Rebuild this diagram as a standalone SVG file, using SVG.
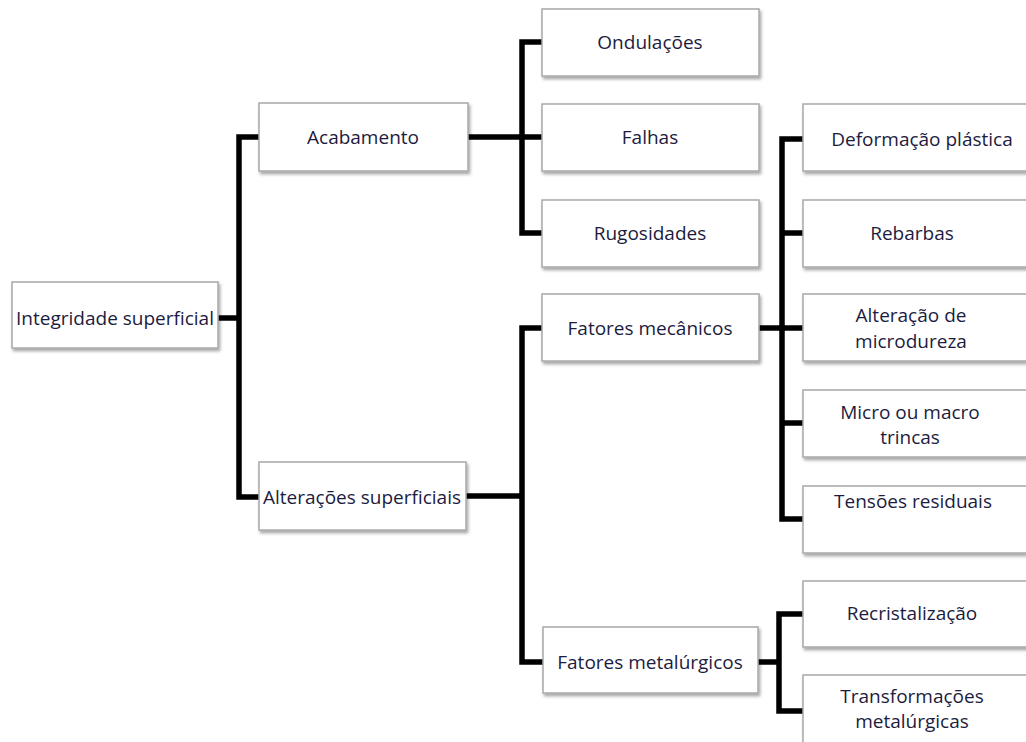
<svg xmlns="http://www.w3.org/2000/svg" width="1026" height="742" viewBox="0 0 1026 742">
<style>
.box{fill:#ffffff;stroke:#a8a8a8;stroke-width:1.5;filter:url(#sh)}
.t{font-family:"Open Sans","Noto Sans",sans-serif;font-size:19px;fill:#1c1c40;text-anchor:middle}
.c{fill:none;stroke:#000000;stroke-width:5.5;stroke-linecap:square;stroke-linejoin:miter}
</style>
<defs>
<filter id="sh" x="-10%" y="-10%" width="125%" height="140%">
<feDropShadow dx="1.5" dy="2.5" stdDeviation="1.5" flood-color="#000000" flood-opacity="0.35"/>
</filter>
</defs>
<rect width="1026" height="742" fill="#ffffff"/>
<g id="connectors">
<path class="c" d="M218 318 H239 M239 137 V497 M239 137 H259 M239 497 H259"/>
<path class="c" d="M468 137 H542 M522 42 V233 M522 42 H542 M522 233 H542"/>
<path class="c" d="M466 496 H522 M522 328 V662 M522 328 H542 M522 662 H543"/>
<path class="c" d="M759 328 H803 M782 139 V519 M782 139 H803 M782 233 H803 M782 423 H803 M782 519 H803"/>
<path class="c" d="M758 662 H779 M779 614 V711 M779 614 H803 M779 711 H803"/>
</g>
<g id="n-integridade"><rect class="box" x="12" y="282" width="206" height="66"/><text class="t" x="115" y="325">Integridade superficial</text></g>
<g id="n-acabamento"><rect class="box" x="259" y="103" width="209" height="68"/><text class="t" x="363" y="144">Acabamento</text></g>
<g id="n-alteracoes"><rect class="box" x="259" y="462" width="207" height="68"/><text class="t" x="362" y="504">Alterações superficiais</text></g>
<g id="n-ondulacoes"><rect class="box" x="542" y="9" width="217" height="67"/><text class="t" x="650" y="49">Ondulações</text></g>
<g id="n-falhas"><rect class="box" x="542" y="104" width="217" height="67"/><text class="t" x="650" y="144">Falhas</text></g>
<g id="n-rugosidades"><rect class="box" x="542" y="200" width="217" height="67"/><text class="t" x="650" y="240">Rugosidades</text></g>
<g id="n-mecanicos"><rect class="box" x="542" y="294" width="217" height="67"/><text class="t" x="650" y="335">Fatores mecânicos</text></g>
<g id="n-metalurgicos"><rect class="box" x="543" y="627" width="215" height="66"/><text class="t" x="650" y="669">Fatores metalúrgicos</text></g>
<g id="n-deformacao"><rect class="box" x="803" y="104" width="230" height="67"/><text class="t" x="922" y="146">Deformação plástica</text></g>
<g id="n-rebarbas"><rect class="box" x="803" y="200" width="230" height="67"/><text class="t" x="912" y="240">Rebarbas</text></g>
<g id="n-microdureza"><rect class="box" x="803" y="294" width="230" height="67"/><text class="t" x="911" y="322">Alteração de</text><text class="t" x="911" y="348">microdureza</text></g>
<g id="n-trincas"><rect class="box" x="803" y="390" width="230" height="67"/><text class="t" x="910" y="419">Micro ou macro</text><text class="t" x="910" y="444">trincas</text></g>
<g id="n-tensoes"><rect class="box" x="803" y="486" width="230" height="67"/><text class="t" x="913" y="508">Tensões residuais</text></g>
<g id="n-recristalizacao"><rect class="box" x="803" y="581" width="230" height="66"/><text class="t" x="912" y="620">Recristalização</text></g>
<g id="n-transformacoes"><rect class="box" x="803" y="675" width="230" height="80"/><text class="t" x="912" y="703">Transformações</text><text class="t" x="912" y="728">metalúrgicas</text></g>
</svg>
